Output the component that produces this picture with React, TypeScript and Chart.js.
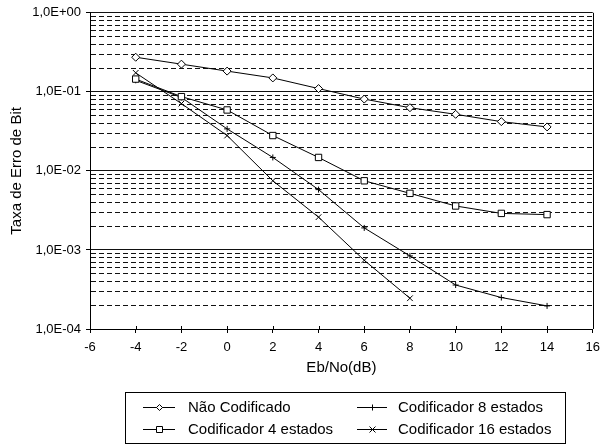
import React, { useEffect, useRef } from 'react';
import { Chart, registerables } from 'chart.js';

Chart.register(...registerables);

// ---- data ----
const ebNo = [-4, -2, 0, 2, 4, 6, 8, 10, 12, 14];
const ebNo16 = [-4, -2, 0, 2, 4, 6, 8];
const naoCodificado = [0.274, 0.224, 0.183, 0.15, 0.11, 0.081, 0.063, 0.052, 0.042, 0.036];
const codificador4 = [0.145, 0.087, 0.059, 0.028, 0.0148, 0.0075, 0.0052, 0.0036, 0.0029, 0.0028];
const codificador8 = [0.14, 0.085, 0.034, 0.0148, 0.0058, 0.0019, 0.00084, 0.00036, 0.00025, 0.000196];
const codificador16 = [0.174, 0.071, 0.028, 0.0075, 0.0026, 0.00074, 0.000245];
const seriesNames = ['Não Codificado', 'Codificador 4 estados', 'Codificador 8 estados', 'Codificador 16 estados'];
const yDecades = [1e-4, 1e-3, 1e-2, 1e-1, 1];
const yDecadeLabels = ['1,0E-04', '1,0E-03', '1,0E-02', '1,0E-01', '1,0E+00'];
const yMinorSteps = [2, 3, 4, 5, 6, 7, 8, 9];
const xMin = -6;
const xMax = 16;
const xStep = 2;
const xTitle = 'Eb/No(dB)';
const yTitle = 'Taxa de Erro de Bit';

const FONT = "'Liberation Sans', Arial, sans-serif";

const decadeIndex = (v: number) => yDecades.findIndex((d) => Math.abs(v / d - 1) < 1e-6);

function drawMarker(ctx: CanvasRenderingContext2D, style: string, x: number, y: number, r: number) {
  ctx.save();
  ctx.strokeStyle = '#000';
  ctx.fillStyle = '#fff';
  ctx.lineWidth = 1;
  ctx.beginPath();
  if (style === 'diamond') {
    ctx.moveTo(x, y - r);
    ctx.lineTo(x + r, y);
    ctx.lineTo(x, y + r);
    ctx.lineTo(x - r, y);
    ctx.closePath();
    ctx.fill();
    ctx.stroke();
  } else if (style === 'square') {
    ctx.rect(x - r, y - r, 2 * r, 2 * r);
    ctx.fill();
    ctx.stroke();
  } else if (style === 'plus') {
    ctx.moveTo(x - r, y);
    ctx.lineTo(x + r, y);
    ctx.moveTo(x, y - r);
    ctx.lineTo(x, y + r);
    ctx.stroke();
  } else {
    ctx.moveTo(x - r, y - r);
    ctx.lineTo(x + r, y + r);
    ctx.moveTo(x + r, y - r);
    ctx.lineTo(x - r, y + r);
    ctx.stroke();
  }
  ctx.restore();
}

const frameAndLegend = {
  id: 'frameAndLegend',
  afterDraw(chart: any) {
    const { ctx, chartArea } = chart;
    const xs = chart.scales.x;
    ctx.save();
    ctx.strokeStyle = '#000';
    ctx.lineWidth = 1;
    // right frame line
    ctx.beginPath();
    const rx = Math.round(chartArea.right) + 0.5;
    ctx.moveTo(rx, chartArea.top);
    ctx.lineTo(rx, chartArea.bottom);
    ctx.stroke();
    // inward part of x ticks (crossing the axis)
    ctx.beginPath();
    xs.ticks.forEach((t: any) => {
      const px = Math.round(xs.getPixelForValue(t.value)) + 0.5;
      ctx.moveTo(px, chartArea.bottom - 3);
      ctx.lineTo(px, chartArea.bottom);
    });
    ctx.stroke();

    // legend
    const bx = 125.5, by = 392.5, bw = 440, bh = 51;
    ctx.strokeRect(bx, by, bw, bh);
    const styles = ['diamond', 'square', 'plus', 'cross'];
    const cols = [
      { l1: 143, l2: 175, tx: 188 },
      { l1: 357, l2: 387, tx: 398 },
    ];
    const rows = [407, 429];
    const layout = [
      [0, 0],
      [0, 1],
      [1, 0],
      [1, 1],
    ];
    ctx.font = `15px ${FONT}`;
    ctx.fillStyle = '#000';
    ctx.textBaseline = 'middle';
    ctx.textAlign = 'left';
    seriesNames.forEach((name, i) => {
      const [c, r] = layout[i];
      const col = cols[c];
      const y = rows[r];
      const ly = Math.round(y) + 0.5;
      ctx.beginPath();
      ctx.moveTo(col.l1, ly);
      ctx.lineTo(col.l2, ly);
      ctx.stroke();
      const mx = Math.round((col.l1 + col.l2) / 2) + 0.5;
      drawMarker(ctx, styles[i], mx, ly, styles[i] === 'square' ? 3 : 3);
      ctx.fillText(name, col.tx, y + 1);
    });
    ctx.restore();
  },
};

export default function App() {
  const ref = useRef<HTMLCanvasElement | null>(null);

  useEffect(() => {
    document.body.style.margin = '0';
    const canvas = ref.current;
    if (!canvas) return;
    const toPts = (xs: number[], ys: number[]) => ys.map((y, i) => ({ x: xs[i], y }));
    const common = {
      borderColor: '#000',
      borderWidth: 1,
      pointBorderColor: '#000',
      pointBackgroundColor: '#fff',
      pointBorderWidth: 1,
      fill: false,
      tension: 0,
    };
    const chart = new Chart(canvas, {
      type: 'line',
      data: {
        datasets: [
          { ...common, label: seriesNames[0], data: toPts(ebNo, naoCodificado), pointStyle: 'rectRot', pointRadius: 4 },
          { ...common, label: seriesNames[1], data: toPts(ebNo, codificador4), pointStyle: 'rect', pointRadius: 4.5 },
          { ...common, label: seriesNames[2], data: toPts(ebNo, codificador8), pointStyle: 'cross', pointRadius: 3 },
          { ...common, label: seriesNames[3], data: toPts(ebNo16, codificador16), pointStyle: 'crossRot', pointRadius: 4 },
        ],
      },
      options: {
        responsive: false,
        animation: false,
        events: [],
        layout: { padding: { left: 0, right: 14, top: 10, bottom: 69 } },
        plugins: {
          legend: { display: false },
          tooltip: { enabled: false },
        },
        scales: {
          x: {
            type: 'linear',
            min: xMin,
            max: xMax,
            ticks: { stepSize: xStep, font: { size: 13, family: FONT }, color: '#000', padding: 7, maxRotation: 0 },
            grid: { drawOnChartArea: false, drawTicks: true, tickLength: 4, tickColor: '#000' },
            border: { display: true, color: '#000', width: 1 },
            title: { display: true, text: xTitle, font: { size: 15, family: FONT }, color: '#000', padding: { top: 0, bottom: 0 } },
            afterFit: (s: any) => {
              s.height = 48;
            },
          },
          y: {
            type: 'logarithmic',
            min: yDecades[0],
            max: yDecades[yDecades.length - 1],
            afterBuildTicks: (s: any) => {
              const t: any[] = [];
              yDecades.forEach((d, i) => {
                t.push({ value: d, major: true });
                if (i < yDecades.length - 1) yMinorSteps.forEach((m) => t.push({ value: d * m, major: false }));
              });
              s.ticks = t;
            },
            ticks: {
              autoSkip: false,
              font: { size: 13, family: FONT },
              color: '#000',
              padding: 5,
              callback: (v: any) => {
                const i = decadeIndex(Number(v));
                return i >= 0 ? yDecadeLabels[i] : '';
              },
            },
            grid: {
              drawOnChartArea: true,
              drawTicks: true,
              tickLength: 4,
              color: '#111',
              lineWidth: 1,
              tickColor: (c: any) => (c.tick && decadeIndex(c.tick.value) >= 0 ? '#000' : 'rgba(0,0,0,0)'),
            },
            border: {
              display: true,
              color: '#000',
              width: 1,
              dash: (c: any) => (c.tick && decadeIndex(c.tick.value) < 0 ? [5, 3] : []),
            },
            title: { display: true, text: yTitle, font: { size: 15, family: FONT }, color: '#000', padding: { top: 8, bottom: 0 } },
            afterFit: (s: any) => {
              s.width = 90;
            },
          },
        },
      },
      plugins: [frameAndLegend],
    } as any);
    return () => chart.destroy();
  }, []);

  return (
    <div style={{ width: 607, height: 446, background: '#fff' }}>
      <canvas ref={ref} width={607} height={446} style={{ display: 'block' }} />
    </div>
  );
}
